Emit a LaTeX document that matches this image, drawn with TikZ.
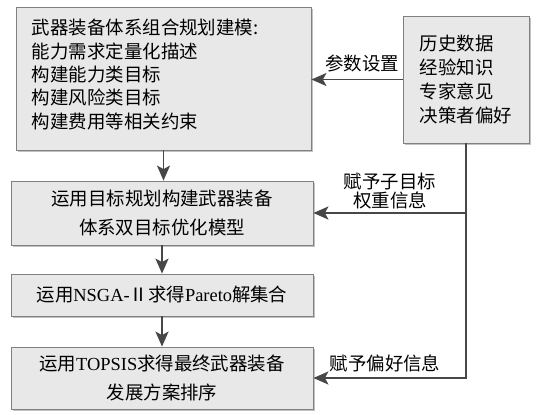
\documentclass[tikz,border=0pt]{standalone}
\usepackage{fontspec}
\setmainfont{Liberation Serif}
\newfontfamily\cjk{Noto Sans CJK SC}
\usetikzlibrary{arrows.meta,shadows,positioning}

\begin{document}
\begin{tikzpicture}[x=1bp,y=-1bp,
  box/.style={draw=black!50,fill=black!9,line width=.8bp,inner sep=0pt,
    drop shadow={shadow xshift=2bp,shadow yshift=-2bp,fill=black!40,opacity=.6}},
  link/.style={draw=black!72,line width=1.9bp,-{Stealth[length=15bp,width=13bp,inset=3.5bp]}},
  lbl/.style={font=\cjk\fontsize{18.5}{20}\selectfont,align=center,inner sep=0pt}]
\useasboundingbox (0,0) rectangle (539,414);
%\draw[help lines] (0,0) grid[step=50] (539,414);
\coordinate (Pset) at (362,63);
\coordinate (Pwt) at (390,191);
\coordinate (Ppref) at (385,363);
%
\node[box,minimum width=295bp,minimum height=143bp,text width=263bp,align=left,
  font=\cjk\fontsize{18.5}{23.5}\selectfont] (model) at (163.5,78.5)
  {武器装备体系组合规划建模:\\能力需求定量化描述\\构建能力类目标\\构建风险类目标\\构建费用等相关约束\\[-14bp]\mbox{}};
\node[box,minimum width=126bp,minimum height=127bp,align=left,
  font=\cjk\fontsize{18.5}{24}\selectfont] (data) at (466,79.5)
  {历史数据\\经验知识\\专家意见\\决策者偏好};
\node[box,minimum width=302bp,minimum height=64bp,align=center,
  font=\cjk\fontsize{18.5}{29}\selectfont] (goal) at (162,213)
  {运用目标规划构建武器装备\\体系双目标优化模型};
\node[box,minimum width=302bp,minimum height=42bp,
  font=\cjk\fontsize{18.5}{22}\selectfont] (nsga) at (162,295)
  {运用{\rmfamily NSGA-}Ⅱ求得{\rmfamily Pareto}解集合};
\node[box,minimum width=302bp,minimum height=62bp,align=center,
  font=\cjk\fontsize{18.5}{30}\selectfont] (topsis) at (162,378)
  {运用{\rmfamily TOPSIS}求得最终武器装备\\发展方案排序};
%
\draw[link] (model.south) -- (model.south |- goal.north);
\draw[link] (goal) -- (nsga);
\draw[link] (nsga) -- (topsis);
\draw[link] (data.west) -- (data.west -| model.east);
\draw[link] (data.south) -- (data.south |- topsis) -- (topsis.east);
\draw[link] (data.south |- goal) -- (goal.east);
%
\node[lbl] (set) at (Pset) {参数设置};
\node[lbl] (wt) at (Pwt) {赋予子目标\\权重信息};
\node[lbl] (pref) at (Ppref) {赋予偏好信息};
\end{tikzpicture}
\end{document}
